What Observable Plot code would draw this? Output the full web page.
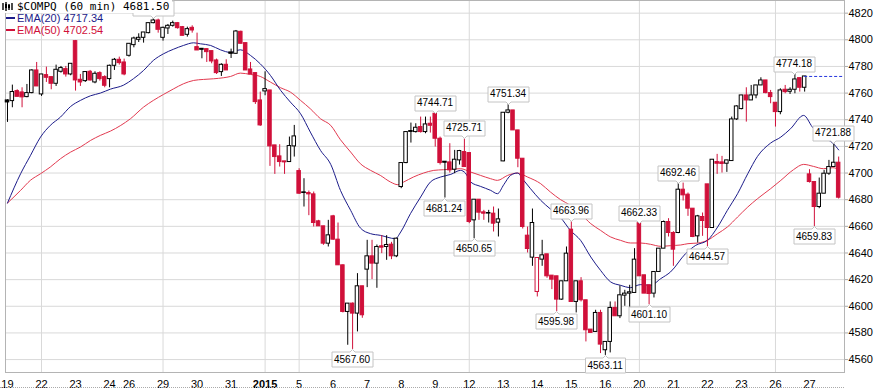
<!DOCTYPE html>
<html><head><meta charset="utf-8">
<script src="https://cdn.jsdelivr.net/npm/d3@7"></script>
<script src="https://cdn.jsdelivr.net/npm/@observablehq/plot@0.6"></script>
<style>
body{margin:0;background:#fff;}
#wrap{position:relative;width:881px;height:389px;overflow:hidden;background:#fff;}
#legend{position:absolute;left:0;top:0;}
#title{position:absolute;left:0;top:0;width:172px;height:13px;background:#fff;font:11px "DejaVu Sans Mono",monospace;line-height:13px;color:#000;white-space:nowrap;}
#title span{position:absolute;left:17px;top:0;}
#title svg{position:absolute;left:2px;top:2px;}
.lg{position:absolute;left:0;font:11px "Liberation Sans",Arial,sans-serif;line-height:12px;white-space:nowrap;}
.lg i{display:inline-block;width:9px;height:2px;margin:0 2px 3px 6px;vertical-align:middle;}
#bottomdots{position:absolute;left:0;top:387px;width:844px;border-top:1px dotted #aaa;}
</style></head>
<body>
<div id="wrap">
  <div id="chart"></div>
  <div id="bottomdots"></div>
  <div id="legend">
    <div id="title"><svg width="11" height="9" viewBox="0 0 11 9"><path d="M1 1v7M4 0v9M7 2v6M10 1v7" stroke="#000" stroke-width="1.4"/><rect x="3" y="2" width="2" height="4" fill="#000"/><rect x="6" y="3" width="2" height="3" fill="#000"/></svg><span>$COMPQ (60 min) 4681.50</span></div>
    <div class="lg" style="top:12px;color:#1c1c8a"><i style="background:#1c1c8a"></i>EMA(20) 4717.34</div>
    <div class="lg" style="top:24px;color:#d0103a"><i style="background:#d0103a"></i>EMA(50) 4702.54</div>
  </div>
</div>
<script>
// ---- trading days (x axis) ----
const dayLabels = ["19","22","23","24","26","29","30","31","2015","5","6","7","8","9","12","13","14","15","16","20","21","22","23","26","27"];
const barsPerDay = [7,7,7,4,7,7,7,7,7,7,7,7,7,7,7,7,7,7,7,7,7,7,7,7,7];
const weekStartDays = [1,5,8,9,14,19,23]; // indexes into dayLabels with a vertical grid line
const yTicks = [4560,4580,4600,4620,4640,4660,4680,4700,4720,4740,4760,4780,4800,4820];

// ---- hourly OHLC ----
const open = [
4754.5,4754,4761.5,4760.5,4757,4760,4777,
4759,4773.5,4772,4767,4776,4778,4774,
4799,4770,4769,4776,4768,4775,4772,
4770.5,4780.5,4785,4783,
4788,4796,4800,4801.5,4805,4812.5,4814.5,
4801.5,4808.5,4810.5,4812.5,4809.5,4803.75,4809,
4794.5,4793.25,4793,4791.5,4784.5,4775.75,4781.25,
4790.5,4789.5,4806,4797.5,4777.75,4775,4754.5,
4761.25,4762,4720.75,4712.5,4708.75,4708.25,4720,
4701.5,4685.5,4685,4684,4663.75,4660,4647,
4667.5,4650,4630.75,4595.75,4602,4594.5,4615,
4627.5,4637.5,4632,4645,4644.5,4646.25,4637.5,
4689.5,4707.5,4731.5,4730.75,4734.5,4730.75,4737,
4744.5,4725.75,4708.5,4708,4702.5,4709.5,4715.75,
4715,4664.5,4680,4670.5,4670,4669.5,4662.75,
4708.75,4745.25,4747,4732,4710.75,4653,4636.5,
4610.75,4635,4639,4623,4622.5,4605,4618.75,
4657.5,4603.25,4618.75,4604.5,4582.5,4580.75,4595,
4567,4573.25,4598.75,4592.5,4608,4609.5,4610,
4662.33,4623.25,4615.75,4609.5,4625.75,4643.25,4663.25,
4655,4655,4687.5,4683.75,4673.25,4652.5,4667,
4691.5,4658.75,4708.25,4708,4707,4709,4740.25,
4748,4758.25,4754.5,4758.25,4765.75,4769.5,4760,
4752.75,4745.75,4762.5,4761,4762.5,4771.25,4764,
4699,4693.25,4674.5,4684.5,4699.5,4704.5,4707.75];
const high = [
4755,4766,4762.5,4764,4766.5,4777.5,4783,
4774,4779.5,4772,4781,4780,4780,4782,
4799.5,4774,4776,4777,4776,4776,4773,
4781,4786,4787,4785.5,
4797,4802,4804.5,4805.5,4812.5,4816.02,4815.5,
4809.5,4811.5,4814,4813,4810,4809.5,4810.5,
4805,4793.5,4793,4791.5,4785.5,4782,4785,
4793,4807,4806.5,4797.5,4783,4775,4760.75,
4776,4762,4720.75,4721.25,4708.75,4727,4735.75,
4703.25,4695.75,4686.5,4685.75,4664.5,4660,4664.5,
4668.25,4662.5,4631,4602,4602.5,4624.5,4615,
4649.5,4649.5,4646,4653,4653,4648,4651,
4707.5,4731,4737.5,4737,4742,4742,4742,
4744.71,4727,4708.5,4722,4717,4717,4725.71,
4715,4680,4680,4672,4672,4674.5,4673,
4745.25,4751.34,4747,4732,4710.75,4659.5,4673,
4636.25,4649.5,4639,4623,4622.5,4618.75,4644.5,
4663.96,4618.75,4621.5,4604.5,4582.5,4597,4597,
4573.25,4603.25,4603.25,4615.25,4612,4615.75,4643.25,
4662.33,4623.25,4615.75,4625.75,4643.25,4664,4665.75,
4656,4692.46,4692.46,4685,4673.25,4668.25,4670,
4691.5,4710,4714,4712.5,4709.5,4742,4750.5,
4758.25,4764,4765.75,4765.75,4771.5,4769.5,4762,
4752.75,4763.25,4765.75,4764,4774.18,4771.25,4772.5,
4702.5,4693.25,4696.25,4702,4709.5,4721.88,4712];
const low = [
4738,4749,4757,4749,4756.5,4759.5,4765,
4757.5,4768,4762.5,4765,4775,4772,4773,
4761.5,4765,4768,4769,4767,4769,4764,
4764,4777,4781,4773,
4787,4794,4798,4797.5,4804.5,4812,4805,
4799,4804,4809.5,4808,4803,4802,4805,
4792,4785.75,4783,4782,4774,4772.5,4777,
4786,4789,4797,4777,4774,4751.5,4735,
4758,4705,4699,4704.5,4699,4708,4712,
4684,4674.5,4668,4659.5,4660,4645.75,4644.5,
4649.5,4630.75,4595,4570.75,4567.6,4580.75,4591,
4614,4620,4613.5,4639.5,4634.5,4635,4636.5,
4688.25,4707,4722.5,4730,4730,4729.5,4730,
4719.5,4706,4681.24,4700,4699.5,4706,4704.5,
4662,4650.65,4664.5,4664.5,4662.5,4655.75,4652,
4708.5,4744.5,4732,4704,4658,4640,4630,
4607,4630,4621,4612.5,4595.98,4604.5,4618.75,
4603,4595,4603.25,4573.25,4580,4580.5,4564.5,
4563.11,4565,4592.5,4590.75,4600,4598.25,4610,
4622.5,4609.5,4601.1,4606.25,4625.75,4643.25,4652,
4630,4654.5,4679,4667.5,4651.5,4647.5,4652.5,
4644.57,4658.75,4699,4700,4700.5,4709,4739.5,
4747.5,4738.25,4754.5,4755.75,4765.75,4759.5,4752,
4734.5,4743.75,4759.5,4759,4759.5,4760.75,4760.75,
4692.5,4659.83,4673.25,4684.5,4698.25,4704.5,4680.5];
const close = [
4753,4760.8,4757.2,4756.8,4760,4777,4765,
4774,4771.5,4767,4777.5,4778.8,4774,4782,
4769.5,4768,4775.8,4769.5,4774.5,4770.5,4765.5,
4780.5,4785,4782.5,4774,
4797,4801,4801.5,4805.5,4812.5,4814.5,4807.5,
4809,4810.5,4812.5,4808.75,4803,4808,4807,
4792,4792.5,4790.75,4783.75,4775,4781.25,4777,
4789.5,4806.25,4797,4777,4774,4753.25,4735.75,
4763,4720,4712,4708.25,4708,4720.25,4727.5,
4684.5,4685,4684,4662.5,4660,4647,4653.25,
4650,4630.75,4595.75,4602,4594.5,4615,4593.25,
4637.5,4632,4644.5,4644,4646,4637.5,4650.75,
4707.5,4730.75,4730.9,4734,4730.75,4736.5,4735.5,
4725.75,4707.5,4707.75,4702,4710,4716.5,4704.5,
4663.25,4680,4670.25,4669.5,4669.6,4662,4665.25,
4745.25,4747,4732,4710.75,4659.5,4643,4662.5,
4636.25,4638.25,4622.5,4620,4605,4618.75,4639.5,
4603.25,4618.75,4604.5,4582,4580,4595,4571.25,
4573.25,4598.75,4592.5,4608.25,4609.5,4610.5,4635,
4622.5,4609.5,4609.2,4625.75,4643.25,4663.25,4655,
4642.5,4687.5,4683.25,4673.25,4652,4667.5,4664,
4658.75,4710,4707,4706.8,4709.5,4740.25,4750,
4758.25,4754.5,4758.25,4765.75,4769.5,4760,4757,
4745.75,4762,4760.75,4762.5,4770.25,4764,4772.5,
4693.25,4674.5,4684.5,4699.5,4704.5,4707.75,4681.5];
const prevClose = 4772.5;

// ---- moving averages (bar position, value) ----
const ema20Bars = [0,2.7,4.7,6.8,8.8,10.9,13,15,17.1,19.1,21.2,23.9,25.9,28,30,32.1,34.2,36.2,38.3,39.7,41.8,43.8,45.9,47.9,50,52,54.1,56.2,58.2,60.3,62.3,64.4,66.5,68.5,70.6,72.6,74.7,76.7,79.8,80.9,82.9,85,87,89.1,91.2,93.2,94.2,95.3,97.3,99.4,100.8,102.1,103.5,104.9,106.2,107.6,109.7,111.7,113.8,115.8,117.9,120,122,124.1,126.1,128.2,130.2,132.3,134.4,136.4,139.5,141.6,144,146.1,148.1,150.2,152.3,154.3,157,159.1,161.1,163.8,165.6,167.7,169.8,171];
const ema20Vals = [4677.5,4699.5,4713,4727,4735.75,4742,4750,4754.5,4758,4760,4763,4766,4770.75,4777,4784.5,4789.5,4793,4795.75,4797.75,4797,4795.75,4792.5,4790.5,4792.5,4788.25,4782,4773.25,4762,4753.25,4744.5,4730.75,4717,4706.5,4687,4672,4658.75,4654.5,4653.25,4650.75,4655.75,4669.5,4682,4693.25,4697,4699,4702,4700,4693.25,4690,4687,4684.5,4691.25,4698.25,4700,4694.5,4688.25,4679.5,4673,4666.5,4657,4649.5,4637,4627,4618.25,4615.75,4614,4616.25,4615.75,4620.75,4625.75,4639.5,4645.75,4649.5,4659.5,4672,4684.5,4699.5,4712.5,4722.5,4727,4733.25,4743.25,4734.5,4727,4722.5,4717.34];
const ema50Bars = [0,2.7,4.7,6.8,8.8,10.9,13,15,17.1,19.1,21.2,23.3,25.3,28,30,32.1,34.2,36.2,38.3,40.3,42.4,44.4,45.9,47.9,50,52,54.1,56.2,58.2,60.3,62.3,64.4,66.5,68.5,70.6,72.6,74.7,76.7,78.8,80.3,81.5,83.5,85.6,87.7,89.7,93.2,95.3,97.3,99.4,100.8,102.9,104.9,107,109.7,111.7,113.8,115.8,117.9,120,122,124.1,126.1,128.2,130.2,132.3,134.4,136.4,138.5,140,142.1,144,146.1,148.1,150.2,152.3,154.3,157,159.1,161.7,163.8,165.8,167.9,169.8,171];
const ema50Vals = [4677.5,4687,4694.5,4699.5,4704.5,4710.75,4715.75,4719.5,4724.5,4728.25,4731.5,4735.75,4740.75,4749.5,4754.5,4759,4763.25,4767,4769.5,4770.25,4770.75,4771.5,4772.5,4775,4774,4772.5,4768.25,4764,4760.75,4754.5,4748.25,4740.75,4735.75,4725,4715.75,4707,4702,4698.25,4693.25,4691.25,4693.25,4697,4700,4702,4702.5,4703.25,4700.75,4698.25,4695.75,4694.5,4698.25,4700,4697,4692,4685.75,4680,4675.75,4669.5,4662,4657,4652,4649.5,4647.5,4647.5,4646.5,4645,4645.5,4646,4647,4647.5,4649.5,4654.5,4659.5,4667,4674.5,4680.75,4688.25,4694.5,4702.5,4706.5,4705,4703.25,4704,4702.54];

// ---- labelled highs and lows ----
const highBars = [30,88,94,103,116,130,138,162,170];
const highVals = [4816.02,4744.71,4725.71,4751.34,4663.96,4662.33,4692.46,4774.18,4721.88];
const lowBars = [71,90,96,113,123,132,144,166];
const lowVals = [4567.60,4681.24,4650.65,4595.98,4563.11,4601.10,4644.57,4659.83];

// ---- build tables ----
const dayStart = [];
{ let s = 0; for (const n of barsPerDay) { dayStart.push(s); s += n; } }
const RED = "#d0103a", BLACK = "#000";
const candles = open.map((o, i) => {
  const c = close[i];
  const color = i > 0 && c < close[i - 1] ? RED : BLACK;
  return {i, o, h: high[i], l: low[i], c, color, fill: c > o ? "#fff" : color};
});
const ema20 = ema20Bars.map((b, k) => ({b, v: ema20Vals[k]}));
const ema50 = ema50Bars.map((b, k) => ({b, v: ema50Vals[k]}));
const highs = highBars.map((b, k) => ({b, v: highVals[k]}));
const lows = lowBars.map((b, k) => ({b, v: lowVals[k]}));
const tickLabel = new Map(dayStart.map((s, k) => [s, dayLabels[k]]));
const yearTick = dayStart[dayLabels.indexOf("2015")];
const normalTicks = dayStart.filter(s => s !== yearTick);
const gridBars = weekStartDays.map(k => dayStart[k]);
const nBars = open.length;
const font = "Liberation Sans, Arial, sans-serif";

const tipStyle = {fontSize: 10, fontFamily: font, textPadding: 2, lineHeight: 1, pointerSize: 5, fill: "#fff", stroke: "#c4c4c4", pathFilter: "none"};

const chart = Plot.plot({
  width: 881, height: 389,
  marginLeft: 5, marginRight: 37, marginTop: 0, marginBottom: 17,
  x: {domain: [-0.41, nBars + 0.2], axis: null},
  y: {domain: [4550.3, 4829.5], axis: null},
  color: {type: "identity"},
  style: {background: "transparent", overflow: "visible"},
  marks: [
    Plot.gridY(yTicks, {stroke: "#d9d9d9", strokeOpacity: 1}),
    Plot.ruleX(gridBars, {stroke: "#d9d9d9", strokeOpacity: 1}),
    Plot.frame({stroke: "#b4b4b4"}),
    Plot.axisY(yTicks, {anchor: "right", tickSize: 3, tickPadding: 1, fontSize: 11, fontFamily: font, label: null, stroke: "#aaa", fill: "#000", tickFormat: d => String(d)}),
    Plot.axisX(normalTicks, {anchor: "bottom", tickSize: 0, tickPadding: 8, fontSize: 11, fontFamily: font, label: null, tickFormat: d => tickLabel.get(d), fill: "#000"}),
    Plot.axisX([yearTick], {anchor: "bottom", tickSize: 0, tickPadding: 8, fontSize: 11, fontWeight: "bold", fontFamily: font, label: null, tickFormat: d => tickLabel.get(d), fill: "#000"}),
    Plot.line(ema50, {x: "b", y: "v", stroke: "#e23a50", strokeWidth: 1, curve: "monotone-x"}),
    Plot.line(ema20, {x: "b", y: "v", stroke: "#1c1c8a", strokeWidth: 1, curve: "monotone-x"}),
    Plot.ruleX(candles, {x: "i", y1: "l", y2: "h", stroke: "color", strokeWidth: 1}),
    Plot.rect(candles, {x1: d => d.i - 0.36, x2: d => d.i + 0.36, y1: "o", y2: "c", fill: "fill", stroke: "color", strokeWidth: 1}),
    Plot.ruleY([prevClose], {x1: 164, x2: nBars + 0.2, stroke: "#2233dd", strokeDasharray: "3,2"}),
    Plot.tip(highs, {x: "b", y: "v", title: d => d.v.toFixed(2), anchor: "bottom", ...tipStyle}),
    Plot.tip(lows, {x: "b", y: "v", title: d => d.v.toFixed(2), anchor: "top", ...tipStyle})
  ]
});
document.getElementById("chart").appendChild(chart);
</script>
</body></html>
